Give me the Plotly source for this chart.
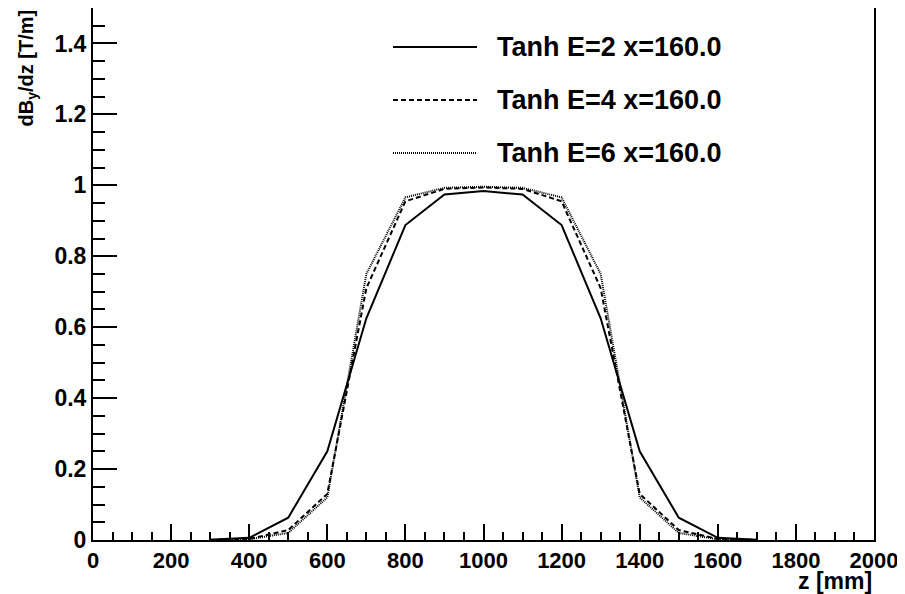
import plotly.graph_objects as go

# ---- data ----
z_mm = [300, 400, 500, 600, 700, 800, 900, 1000, 1100, 1200, 1300, 1400, 1500, 1600, 1700]
tanh_e2 = [0.001, 0.006, 0.063, 0.25, 0.625, 0.888, 0.974, 0.984, 0.974, 0.888, 0.625, 0.25, 0.063, 0.006, 0.001]
tanh_e4 = [0.0, 0.003, 0.028, 0.13, 0.71, 0.955, 0.99, 0.994, 0.99, 0.955, 0.71, 0.13, 0.028, 0.003, 0.0]
tanh_e6 = [0.0, 0.002, 0.02, 0.12, 0.75, 0.966, 0.993, 0.996, 0.993, 0.966, 0.75, 0.12, 0.02, 0.002, 0.0]
series_names = ["Tanh E=2 x=160.0", "Tanh E=4 x=160.0", "Tanh E=6 x=160.0"]
series_dash = ["solid", "5px,3px", "1px,1px"]

x_ticks = [0, 200, 400, 600, 800, 1000, 1200, 1400, 1600, 1800, 2000]
x_ticktext = ["0", "200", "400", "600", "800", "1000", "1200", "1400", "1600", "1800", "2000"]
y_ticks = [0, 0.2, 0.4, 0.6, 0.8, 1.0, 1.2, 1.4]
y_ticktext = ["0", "0.2", "0.4", "0.6", "0.8", "1", "1.2", "1.4"]

FONT = "Liberation Sans, Arial, Helvetica, sans-serif"
OFF = 8  # default page body margin
W, H = 905 - OFF, 594 - OFF
L, R, T, B = 93 - OFF, 31, 0, 54
pw, ph = W - L - R, H - T - B
# page-pixel helpers (page coordinates of plot area)
PX0, PY1 = 93, 540

fig = go.Figure()
for name, ys, dash in zip(series_names, [tanh_e2, tanh_e4, tanh_e6], series_dash):
    fig.add_trace(go.Scatter(x=z_mm, y=ys, mode="lines", name=name,
                             line=dict(color="black", width=2, dash=dash),
                             showlegend=False))

# manual ROOT-style legend
legend_rows_px = [47, 100, 153]
for name, dash, py in zip(series_names, series_dash, legend_rows_px):
    yp = (PY1 - py) / ph
    fig.add_shape(type="line", xref="paper", yref="paper",
                  x0=(393 - PX0) / pw, x1=(477 - PX0) / pw, y0=yp, y1=yp,
                  line=dict(color="black", width=2, dash=dash))
    fig.add_annotation(text=name, xref="paper", yref="paper",
                       x=(495 - PX0) / pw, y=yp, xanchor="left", yanchor="middle",
                       showarrow=False,
                       font=dict(family=FONT, size=27, color="black", weight="bold"))

# axis titles (ROOT style: right/top aligned)
fig.add_annotation(text="z [mm]", xref="paper", yref="paper", x=1.0,
                   y=(PY1 - 581) / ph, xanchor="right", yanchor="middle",
                   showarrow=False,
                   font=dict(family=FONT, size=23, color="black", weight="bold"))
fig.add_annotation(text="dB<sub>y</sub>/dz [T/m]", xref="paper", yref="paper",
                   x=(27 - PX0) / pw, y=1.0, xanchor="center", yanchor="top",
                   textangle=-90, showarrow=False,
                   font=dict(family=FONT, size=20, color="black", weight="bold"))

axis_common = dict(showgrid=False, zeroline=False, showline=True, mirror=True,
                   linecolor="black", linewidth=2, ticks="inside", tickcolor="black",
                   tickwidth=1.5, automargin=False)

fig.update_xaxes(range=[0, 2000], tickmode="array", tickvals=x_ticks, ticktext=x_ticktext,
                 ticklen=16, ticklabelstandoff=0,
                 tickfont=dict(family=FONT, size=22, color="black", weight="bold"),
                 minor=dict(dtick=50, tick0=0, ticklen=8, ticks="inside",
                            tickcolor="black", tickwidth=1.5),
                 **axis_common)
fig.update_yaxes(range=[0, 1.5], tickmode="array", tickvals=y_ticks, ticktext=y_ticktext,
                 ticklen=24, ticklabelstandoff=0,
                 tickfont=dict(family=FONT, size=23, color="black", weight="bold"),
                 minor=dict(dtick=0.05, tick0=0, ticklen=12, ticks="inside",
                            tickcolor="black", tickwidth=1.5),
                 **axis_common)

fig.update_layout(width=W, height=H, margin=dict(l=L, r=R, t=T, b=B, pad=0),
                  paper_bgcolor="white", plot_bgcolor="white",
                  font=dict(family=FONT, color="black"))

fig.write_html("out.html")
